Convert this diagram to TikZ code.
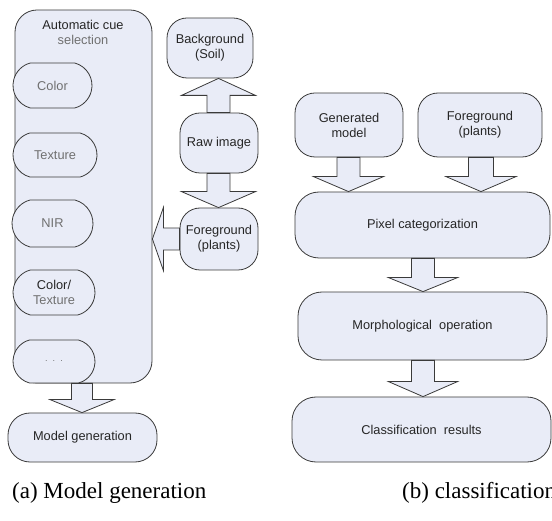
\documentclass[tikz,border=0pt]{standalone}
\usepackage{fontspec}
\setmainfont{Liberation Sans}
\newfontfamily\capfont{Liberation Serif}
\usetikzlibrary{calc,shapes.misc}
\definecolor{boxfill}{HTML}{E9ECF7}
\definecolor{boxline}{HTML}{3A3A3A}
\definecolor{cuetext}{HTML}{707070}
\tikzset{
  box/.style={draw=boxline, fill=boxfill, line width=0.8pt, rounded corners=20pt,
    align=center, inner sep=0pt, font=\fontsize{12.8}{15}\selectfont, text=black!85},
  cue/.style={box, sharp corners, rounded rectangle, rounded rectangle arc length=150, text=cuetext},
  blk/.style={draw=boxline, fill=boxfill, line width=0.8pt, line join=miter},
  captext/.style={font=\capfont\fontsize{23}{26}\selectfont, anchor=base west, inner sep=0pt},
  lbl/.style={align=center, inner sep=0pt, font=\fontsize{12.8}{15}\selectfont}
}
% vertical block arrow: #1 x, #2 from, #3 to, #4 shaft half width, #5 head half width, #6 head length
\newcommand\blkdown[6]{%
  \path[blk] let \p1=(#2), \p2=(#3) in
    ({(#1-#4)*1pt},\y1) -- ({(#1-#4)*1pt},{\y2+#6pt}) -- ({(#1-#5)*1pt},{\y2+#6pt})
    -- ({#1*1pt},\y2) -- ({(#1+#5)*1pt},{\y2+#6pt}) -- ({(#1+#4)*1pt},{\y2+#6pt})
    -- ({(#1+#4)*1pt},\y1) -- cycle;}
\newcommand\blkup[6]{%
  \path[blk] let \p1=(#2), \p2=(#3) in
    ({(#1-#4)*1pt},\y1) -- ({(#1-#4)*1pt},{\y2-#6pt}) -- ({(#1-#5)*1pt},{\y2-#6pt})
    -- ({#1*1pt},\y2) -- ({(#1+#5)*1pt},{\y2-#6pt}) -- ({(#1+#4)*1pt},{\y2-#6pt})
    -- ({(#1+#4)*1pt},\y1) -- cycle;}
% horizontal leftward block arrow: #1 y (px, downward), #2 from, #3 to, #4,#5,#6 as above
\newcommand\blkleft[6]{%
  \path[blk] let \p1=(#2), \p2=(#3) in
    (\x1,{-(#1-#4)*1pt}) -- ({\x2+#6pt},{-(#1-#4)*1pt}) -- ({\x2+#6pt},{-(#1-#5)*1pt})
    -- (\x2,{-#1*1pt}) -- ({\x2+#6pt},{-(#1+#5)*1pt}) -- ({\x2+#6pt},{-(#1+#4)*1pt})
    -- (\x1,{-(#1+#4)*1pt}) -- cycle;}
\begin{document}
\begin{tikzpicture}[x=1pt,y=-1pt]
\useasboundingbox (0,0) rectangle (552,521);

% ---- (a) model generation ----
\node[box, rounded corners=22pt, minimum width=137pt, minimum height=373pt] (cont) at (83.5,196.5) {};
\node[lbl, text=black!85] (title) at (83,32) {Automatic cue\\{\color{cuetext}selection}};
\node[cue, minimum width=79pt, minimum height=45pt] (color) at (52.5,85.5) {Color};
\node[cue, minimum width=84pt, minimum height=44pt] (texture) at (55,155) {Texture};
\node[cue, minimum width=81pt, minimum height=47pt] (nir) at (52.5,223.5) {NIR};
\node[cue, minimum width=82pt, minimum height=45pt, text=black!85] (ct) at (54,292.5) {Color/\\{\color{cuetext}Texture}};
\node[cue, minimum width=82pt, minimum height=43pt, font=\fontsize{9}{10}\selectfont] (dots) at (54,361.5) {.\ \ .\ \ .};
\node[box, rounded corners=22pt, minimum width=149pt, minimum height=49pt] (modelgen) at (82.5,437.5) {Model generation};

\node[box, minimum width=86pt, minimum height=60pt] (bg) at (210,48) {Background\\(Soil)};
\node[box, minimum width=78pt, minimum height=60pt] (raw) at (219,143) {Raw image};
\node[box, minimum width=78pt, minimum height=62pt] (fg) at (219,239) {Foreground\\(plants)};

\blkdown{82}{cont.south}{modelgen.north}{10.5}{32}{13}
\blkup{218.5}{raw.north}{bg.south}{11.5}{37}{17}
\blkdown{218.5}{raw.south}{fg.north}{11.5}{37}{16}
\blkleft{239}{fg.west}{cont.east}{11}{31.5}{11}

% ---- (b) classification ----
\node[box, minimum width=108pt, minimum height=64pt] (gen) at (349,125) {Generated\\model};
\node[box, minimum width=124pt, minimum height=64pt] (fg2) at (480,125) {Foreground\\(plants)};
\node[box, rounded corners=24pt, minimum width=255pt, minimum height=66pt] (pix) at (422.5,225) {Pixel categorization};
\node[box, rounded corners=24pt, minimum width=249pt, minimum height=68pt] (morph) at (422.5,326) {Morphological\ \ operation};
\node[box, rounded corners=24pt, minimum width=259pt, minimum height=65pt] (class) at (421.5,429.5) {Classification\ \ results};

\blkdown{348.5}{gen.south}{pix.north}{11.5}{35}{15}
\blkdown{481}{fg2.south}{pix.north}{12.5}{35}{15}
\blkdown{423}{pix.south}{morph.north}{11.5}{34.5}{14}
\blkdown{423}{morph.south}{class.north}{11.5}{34.5}{15}

\node[captext] (capa) at (12,498) {(a) Model generation};
\node[captext] (capb) at (402,498) {(b) classification};
\end{tikzpicture}
\end{document}
